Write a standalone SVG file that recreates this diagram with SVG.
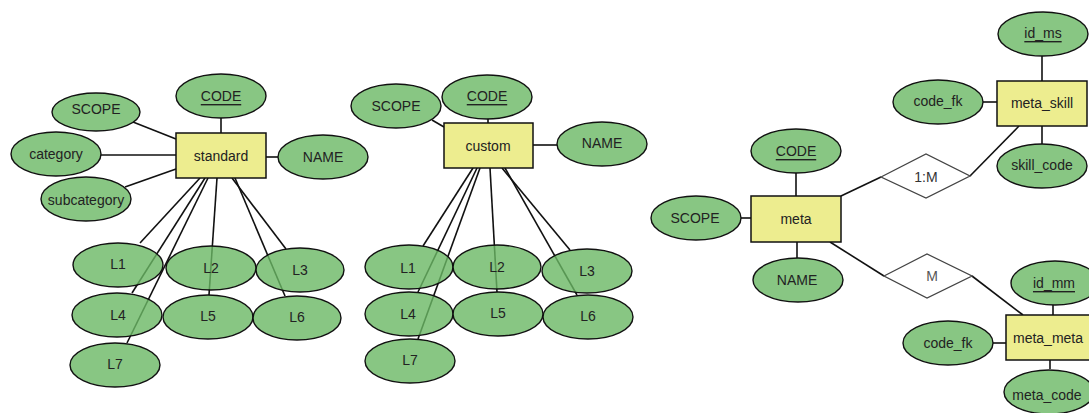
<svg xmlns="http://www.w3.org/2000/svg" width="1089" height="413" viewBox="0 0 1089 413">
<style>
.a{fill:#6ab864;fill-opacity:0.8;stroke:#111;stroke-width:1.4}
.e{fill:#eded8f;stroke:#111;stroke-width:1.5}
.r{fill:#fff;stroke:#444;stroke-width:1.3}
.c line{stroke:#111;stroke-width:1.6}
text{font-family:"Liberation Sans",Arial,sans-serif;font-size:14px;fill:#222;text-anchor:middle;dominant-baseline:central}
.u{text-decoration:underline}
</style>
<rect width="1089" height="413" fill="#fff"/>
<g id="connectors" class="c">
<line x1="133" y1="122" x2="176" y2="139"/>
<line x1="101" y1="155" x2="176" y2="155"/>
<line x1="125" y1="187" x2="176" y2="169"/>
<line x1="221" y1="118" x2="221" y2="133"/>
<line x1="266" y1="157" x2="278" y2="157"/>
<line x1="200" y1="178" x2="140" y2="243"/>
<line x1="205" y1="178" x2="132" y2="293"/>
<line x1="208" y1="178" x2="127" y2="343"/>
<line x1="217" y1="178" x2="209" y2="295"/>
<line x1="232" y1="178" x2="286" y2="249"/>
<line x1="235" y1="178" x2="285" y2="296"/>
<line x1="432" y1="120" x2="444" y2="127"/>
<line x1="488" y1="119" x2="488" y2="123"/>
<line x1="533" y1="145" x2="557" y2="145"/>
<line x1="473" y1="168" x2="423" y2="246"/>
<line x1="477" y1="168" x2="418" y2="292"/>
<line x1="480" y1="168" x2="418" y2="339"/>
<line x1="490" y1="168" x2="497" y2="292"/>
<line x1="502" y1="168" x2="570" y2="250"/>
<line x1="505" y1="168" x2="577" y2="295"/>
<line x1="796" y1="173" x2="796" y2="196"/>
<line x1="741" y1="218" x2="751" y2="218"/>
<line x1="797" y1="242" x2="797" y2="258"/>
<line x1="841" y1="196" x2="881" y2="177"/>
<line x1="970" y1="176" x2="1019" y2="126"/>
<line x1="1042" y1="56" x2="1042" y2="81"/>
<line x1="983" y1="102" x2="997" y2="102"/>
<line x1="1042" y1="126" x2="1042" y2="144"/>
<line x1="830" y1="242" x2="884" y2="276"/>
<line x1="972" y1="276" x2="1023" y2="315"/>
<line x1="1053" y1="305" x2="1053" y2="315"/>
<line x1="993" y1="343" x2="1006" y2="343"/>
<line x1="1050" y1="360" x2="1050" y2="369"/>
</g>
<g id="standard"><rect class="e" x="176" y="133" width="90" height="45"/><text x="221" y="156">standard</text></g>
<g id="std_scope"><ellipse class="a" cx="96" cy="112" rx="44" ry="19"/><text x="96" y="109">SCOPE</text></g>
<g id="std_code"><ellipse class="a" cx="221" cy="96" rx="45" ry="22"/><text class="u" x="221" y="96">CODE</text></g>
<g id="std_category"><ellipse class="a" cx="56" cy="154" rx="45" ry="22"/><text x="56" y="154">category</text></g>
<g id="std_subcategory"><ellipse class="a" cx="86" cy="199" rx="45" ry="22"/><text x="86" y="200">subcategory</text></g>
<g id="std_name"><ellipse class="a" cx="323" cy="157" rx="45" ry="22"/><text x="323" y="157">NAME</text></g>
<g id="std_l1"><ellipse class="a" cx="118" cy="265" rx="45" ry="22"/><text x="118" y="264">L1</text></g>
<g id="std_l2"><ellipse class="a" cx="211" cy="268" rx="45" ry="22"/><text x="211" y="268">L2</text></g>
<g id="std_l3"><ellipse class="a" cx="300" cy="270" rx="44" ry="22"/><text x="300" y="270">L3</text></g>
<g id="std_l4"><ellipse class="a" cx="117" cy="315" rx="45" ry="22"/><text x="118" y="315">L4</text></g>
<g id="std_l5"><ellipse class="a" cx="208" cy="317" rx="45" ry="22"/><text x="208" y="316">L5</text></g>
<g id="std_l6"><ellipse class="a" cx="297" cy="318" rx="44" ry="22"/><text x="297" y="317">L6</text></g>
<g id="std_l7"><ellipse class="a" cx="115" cy="365" rx="45" ry="22"/><text x="115" y="364">L7</text></g>
<g id="custom"><rect class="e" x="444" y="123" width="89" height="45"/><text x="488" y="146">custom</text></g>
<g id="cus_scope"><ellipse class="a" cx="396" cy="106" rx="45" ry="22"/><text x="396" y="106">SCOPE</text></g>
<g id="cus_code"><ellipse class="a" cx="487" cy="97" rx="45" ry="22"/><text class="u" x="487" y="96">CODE</text></g>
<g id="cus_name"><ellipse class="a" cx="602" cy="144" rx="45" ry="22"/><text x="602" y="143">NAME</text></g>
<g id="cus_l1"><ellipse class="a" cx="409" cy="267" rx="44" ry="22"/><text x="408" y="268">L1</text></g>
<g id="cus_l2"><ellipse class="a" cx="497" cy="267" rx="44" ry="22"/><text x="497" y="267">L2</text></g>
<g id="cus_l3"><ellipse class="a" cx="587" cy="271" rx="45" ry="22"/><text x="587" y="271">L3</text></g>
<g id="cus_l4"><ellipse class="a" cx="409" cy="314" rx="44" ry="22"/><text x="408" y="314">L4</text></g>
<g id="cus_l5"><ellipse class="a" cx="498" cy="314" rx="45" ry="22"/><text x="498" y="313">L5</text></g>
<g id="cus_l6"><ellipse class="a" cx="588" cy="317" rx="45" ry="22"/><text x="588" y="316">L6</text></g>
<g id="cus_l7"><ellipse class="a" cx="410" cy="361" rx="45" ry="22"/><text x="410" y="360">L7</text></g>
<g id="meta"><rect class="e" x="751" y="196" width="90" height="46"/><text x="796" y="219">meta</text></g>
<g id="meta_code_attr"><ellipse class="a" cx="796" cy="151" rx="45" ry="22"/><text class="u" x="796" y="151">CODE</text></g>
<g id="meta_scope"><ellipse class="a" cx="696" cy="218" rx="45" ry="22"/><text x="695" y="218">SCOPE</text></g>
<g id="meta_name"><ellipse class="a" cx="798" cy="280" rx="45" ry="22"/><text x="797" y="280">NAME</text></g>
<g id="rel_1m"><polygon class="r" points="881,177 926,154 970,176 926,198"/><text x="926" y="177" style="fill:#333">1:M</text></g>
<g id="rel_m"><polygon class="r" points="884,276 927,254 972,276 927,298"/><text x="932" y="276" style="fill:#555">M</text></g>
<g id="meta_skill"><rect class="e" x="997" y="81" width="90" height="45"/><text x="1042" y="103">meta_skill</text></g>
<g id="ms_id"><ellipse class="a" cx="1043" cy="34" rx="45" ry="22"/><text class="u" x="1043" y="33">id_ms</text></g>
<g id="ms_code_fk"><ellipse class="a" cx="938" cy="102" rx="45" ry="22"/><text x="938" y="101">code_fk</text></g>
<g id="ms_skill_code"><ellipse class="a" cx="1042" cy="166" rx="45" ry="22"/><text x="1042" y="165">skill_code</text></g>
<g id="meta_meta"><rect class="e" x="1006" y="315" width="90" height="45"/><text x="1048" y="338">meta_meta</text></g>
<g id="mm_id"><ellipse class="a" cx="1055" cy="283" rx="44" ry="22"/><text class="u" x="1054" y="283">id_mm</text></g>
<g id="mm_code_fk"><ellipse class="a" cx="948" cy="343" rx="45" ry="22"/><text x="948" y="343">code_fk</text></g>
<g id="mm_meta_code"><ellipse class="a" cx="1049" cy="392" rx="45" ry="22"/><text x="1047" y="395">meta_code</text></g>
</svg>
